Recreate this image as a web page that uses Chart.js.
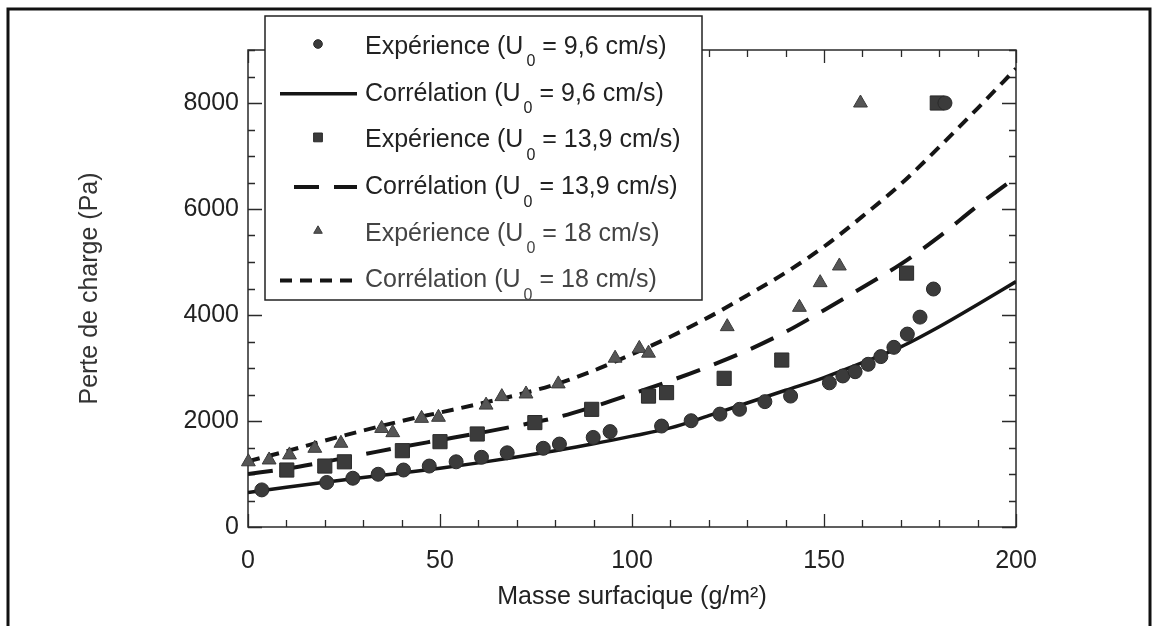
<!DOCTYPE html>
<html>
<head>
<meta charset="utf-8">
<script src="https://cdn.jsdelivr.net/npm/chart.js@4.4.1/dist/chart.umd.min.js"></script>
<style>
  html, body { margin: 0; padding: 0; background: #fff; }
  #wrap { position: relative; width: 1158px; height: 626px; }
</style>
</head>
<body>
<div id="wrap"><canvas id="chart"></canvas></div>
<script>
// ── Données ────────────────────────────────────────────────────────────────
const massCircle = [3.6, 20.5, 27.3, 33.9, 40.5, 47.2, 54.2, 60.8, 67.5, 76.9, 81.1, 89.9, 94.3, 107.7, 115.4, 122.9, 128, 134.6, 141.3, 151.4, 154.9, 158.1, 161.5, 164.8, 168.2, 171.7, 175, 178.5, 181.5];
const dpCircle   = [700, 840, 920, 995, 1075, 1150, 1230, 1315, 1400, 1485, 1565, 1690, 1800, 1905, 2005, 2130, 2220, 2365, 2470, 2720, 2850, 2930, 3070, 3215, 3390, 3640, 3960, 4490, 8000];

const massSquare = [10.1, 20, 25.1, 40.2, 50, 59.7, 74.7, 89.5, 104.3, 109, 124, 139, 171.5, 179.5];
const dpSquare   = [1075, 1150, 1230, 1440, 1610, 1755, 1970, 2220, 2470, 2535, 2805, 3150, 4790, 8000];

const massTriangle = [0.1, 5.5, 10.8, 17.4, 24.2, 34.8, 37.7, 45.2, 49.6, 62, 66.1, 72.4, 80.8, 95.6, 101.9, 104.3, 124.8, 143.6, 149, 154, 159.5];
const dpTriangle   = [1230, 1265, 1360, 1485, 1580, 1860, 1780, 2050, 2070, 2300, 2460, 2510, 2700, 3185, 3370, 3280, 3780, 4145, 4610, 4925, 8000];

// corrélations (lues tous les 10 g/m2)
const massFit = [0, 10, 20, 30, 40, 50, 60, 70, 80, 90, 100, 110, 120, 130, 140, 150, 160, 170, 180, 190, 200];
const fit96   = [650, 750, 845, 935, 1020, 1110, 1210, 1320, 1440, 1570, 1715, 1870, 2100, 2340, 2580, 2820, 3100, 3400, 3780, 4200, 4630];
const fit139  = [1000, 1100, 1230, 1370, 1510, 1640, 1770, 1910, 2060, 2270, 2510, 2760, 3030, 3330, 3680, 4090, 4520, 4960, 5480, 6060, 6600];
const fit18   = [1240, 1430, 1630, 1820, 2000, 2160, 2320, 2490, 2690, 2950, 3260, 3590, 3960, 4370, 4800, 5290, 5860, 6470, 7170, 7900, 8650];

const xTicks = [0, 50, 100, 150, 200];
const yTicks = [0, 2000, 4000, 6000, 8000];

const legendLabels = [
  ['Expérience (U', '0', ' = 9,6 cm/s)'],
  ['Corrélation (U', '0', ' = 9,6 cm/s)'],
  ['Expérience (U', '0', ' = 13,9 cm/s)'],
  ['Corrélation (U', '0', ' = 13,9 cm/s)'],
  ['Expérience (U', '0', ' = 18 cm/s)'],
  ['Corrélation (U', '0', ' = 18 cm/s)']
];

const FONT = "'Liberation Sans', Arial, Helvetica, sans-serif";
const pts = (xs, ys) => xs.map((x, i) => ({ x, y: ys[i] }));

// ── Cadre, graduations, légende ───────────────────────────────────────────
const decor = {
  id: 'decor',
  beforeDatasetsDraw(chart) {
    const { ctx, chartArea: a, scales: { x, y } } = chart;
    ctx.save();
    ctx.strokeStyle = '#2a2a2a';
    ctx.lineWidth = 1.5;
    ctx.strokeRect(a.left, a.top, a.right - a.left, a.bottom - a.top);
    ctx.lineWidth = 1.3;
    ctx.beginPath();
    for (let v = 0; v <= 200; v += 10) {
      const px = Math.round(x.getPixelForValue(v)) + 0.5;
      const len = v % 50 === 0 ? 13 : 7;
      ctx.moveTo(px, a.bottom); ctx.lineTo(px, a.bottom - len);
      ctx.moveTo(px, a.top); ctx.lineTo(px, a.top + len);
    }
    for (let v = 0; v <= 9000; v += 500) {
      const py = Math.round(y.getPixelForValue(v)) + 0.5;
      const len = v % 2000 === 0 ? 14 : 7;
      ctx.moveTo(a.left, py); ctx.lineTo(a.left + len, py);
      ctx.moveTo(a.right, py); ctx.lineTo(a.right - len, py);
    }
    ctx.stroke();
    ctx.restore();
  },
  afterDraw(chart) {
    const { ctx } = chart;
    ctx.save();
    // bordure de la page scannée
    ctx.strokeStyle = '#111';
    ctx.lineWidth = 3;
    ctx.beginPath();
    ctx.moveTo(8, 626); ctx.lineTo(8, 9); ctx.lineTo(1150, 9); ctx.lineTo(1150, 626);
    ctx.stroke();

    // légende
    const bx = 265, by = 16, bw = 437, bh = 284;
    ctx.fillStyle = '#fff';
    ctx.fillRect(bx, by, bw, bh);
    ctx.strokeStyle = '#222';
    ctx.lineWidth = 1.5;
    ctx.strokeRect(bx, by, bw, bh);

    const ds = chart.data.datasets;
    legendLabels.forEach((parts, i) => {
      const cy = 47 + i * 46.7;
      const d = ds[i];
      if (d.showLine) {
        ctx.strokeStyle = d.borderColor;
        ctx.lineWidth = d.borderWidth;
        ctx.setLineDash(d.borderDash || []);
        ctx.beginPath();
        ctx.moveTo(i === 3 ? 294 : 280, cy); ctx.lineTo(357, cy);
        ctx.stroke();
        ctx.setLineDash([]);
      } else {
        ctx.fillStyle = d.backgroundColor;
        ctx.strokeStyle = d.borderColor;
        ctx.lineWidth = 1;
        Chart.helpers.drawPoint(ctx, { pointStyle: d.pointStyle, radius: d.pointRadius * 0.62, borderWidth: 1 }, 318, cy - 3);
      }
      ctx.fillStyle = i >= 4 ? '#444' : '#222';
      ctx.textBaseline = 'middle';
      ctx.font = `25px ${FONT}`;
      let tx = 365;
      ctx.fillText(parts[0], tx, cy);
      tx += ctx.measureText(parts[0]).width + 3;
      ctx.font = `16px ${FONT}`;
      ctx.fillText(parts[1], tx, cy + 15);
      tx += ctx.measureText(parts[1]).width;
      ctx.font = `25px ${FONT}`;
      ctx.fillText(parts[2], tx, cy);
    });
    ctx.restore();
  }
};

const markerColor = '#3b3b3b';

new Chart(document.getElementById('chart'), {
  type: 'scatter',
  data: {
    datasets: [
      { label: 'Expérience 9,6', data: pts(massCircle, dpCircle), pointStyle: 'circle', pointRadius: 7,
        backgroundColor: markerColor, borderColor: '#2a2a2a', borderWidth: 1, order: 0, clip: false },
      { label: 'Corrélation 9,6', data: pts(massFit, fit96), showLine: true, pointRadius: 0,
        borderColor: '#151515', borderWidth: 3.5, cubicInterpolationMode: 'monotone', order: 1 },
      { label: 'Expérience 13,9', data: pts(massSquare, dpSquare), pointStyle: 'rect', pointRadius: 10,
        backgroundColor: markerColor, borderColor: '#2a2a2a', borderWidth: 1, order: 0, clip: false },
      { label: 'Corrélation 13,9', data: pts(massFit, fit139), showLine: true, pointRadius: 0,
        borderColor: '#151515', borderWidth: 4, borderDash: [25, 15], cubicInterpolationMode: 'monotone', order: 1 },
      { label: 'Expérience 18', data: pts(massTriangle, dpTriangle), pointStyle: 'triangle', pointRadius: 8,
        backgroundColor: '#555', borderColor: '#3a3a3a', borderWidth: 1, order: 0, clip: false },
      { label: 'Corrélation 18', data: pts(massFit, fit18), showLine: true, pointRadius: 0,
        borderColor: '#151515', borderWidth: 4, borderDash: [12, 8], cubicInterpolationMode: 'monotone', order: 1 }
    ]
  },
  options: {
    responsive: true,
    maintainAspectRatio: false,
    animation: false,
    layout: { padding: { left: 0, top: 50, right: 142, bottom: 0 } },
    plugins: { legend: { display: false }, tooltip: { enabled: false } },
    scales: {
      x: {
        type: 'linear', min: 0, max: 200,
        grid: { display: false, drawTicks: false },
        border: { display: false },
        afterBuildTicks(s) { s.ticks = xTicks.map(value => ({ value })); },
        ticks: { padding: 19, color: '#222', font: { family: FONT, size: 25 }, callback: v => String(v) },
        title: { display: true, text: 'Masse surfacique (g/m²)', color: '#222',
                 font: { family: FONT, size: 25 }, padding: { top: 0, bottom: 14 } },
        afterFit(s) { s.height = 99; }
      },
      y: {
        type: 'linear', min: 0, max: 9000,
        grid: { display: false, drawTicks: false },
        border: { display: false },
        afterBuildTicks(s) { s.ticks = yTicks.map(value => ({ value })); },
        ticks: { padding: 9, color: '#222', font: { family: FONT, size: 25 }, callback: v => String(v) },
        title: { display: true, text: 'Perte de charge (Pa)', color: '#333',
                 font: { family: FONT, size: 25 }, padding: { top: 75, bottom: 0 } },
        afterFit(s) { s.width = 248; }
      }
    }
  },
  plugins: [decor]
});
</script>
</body>
</html>
